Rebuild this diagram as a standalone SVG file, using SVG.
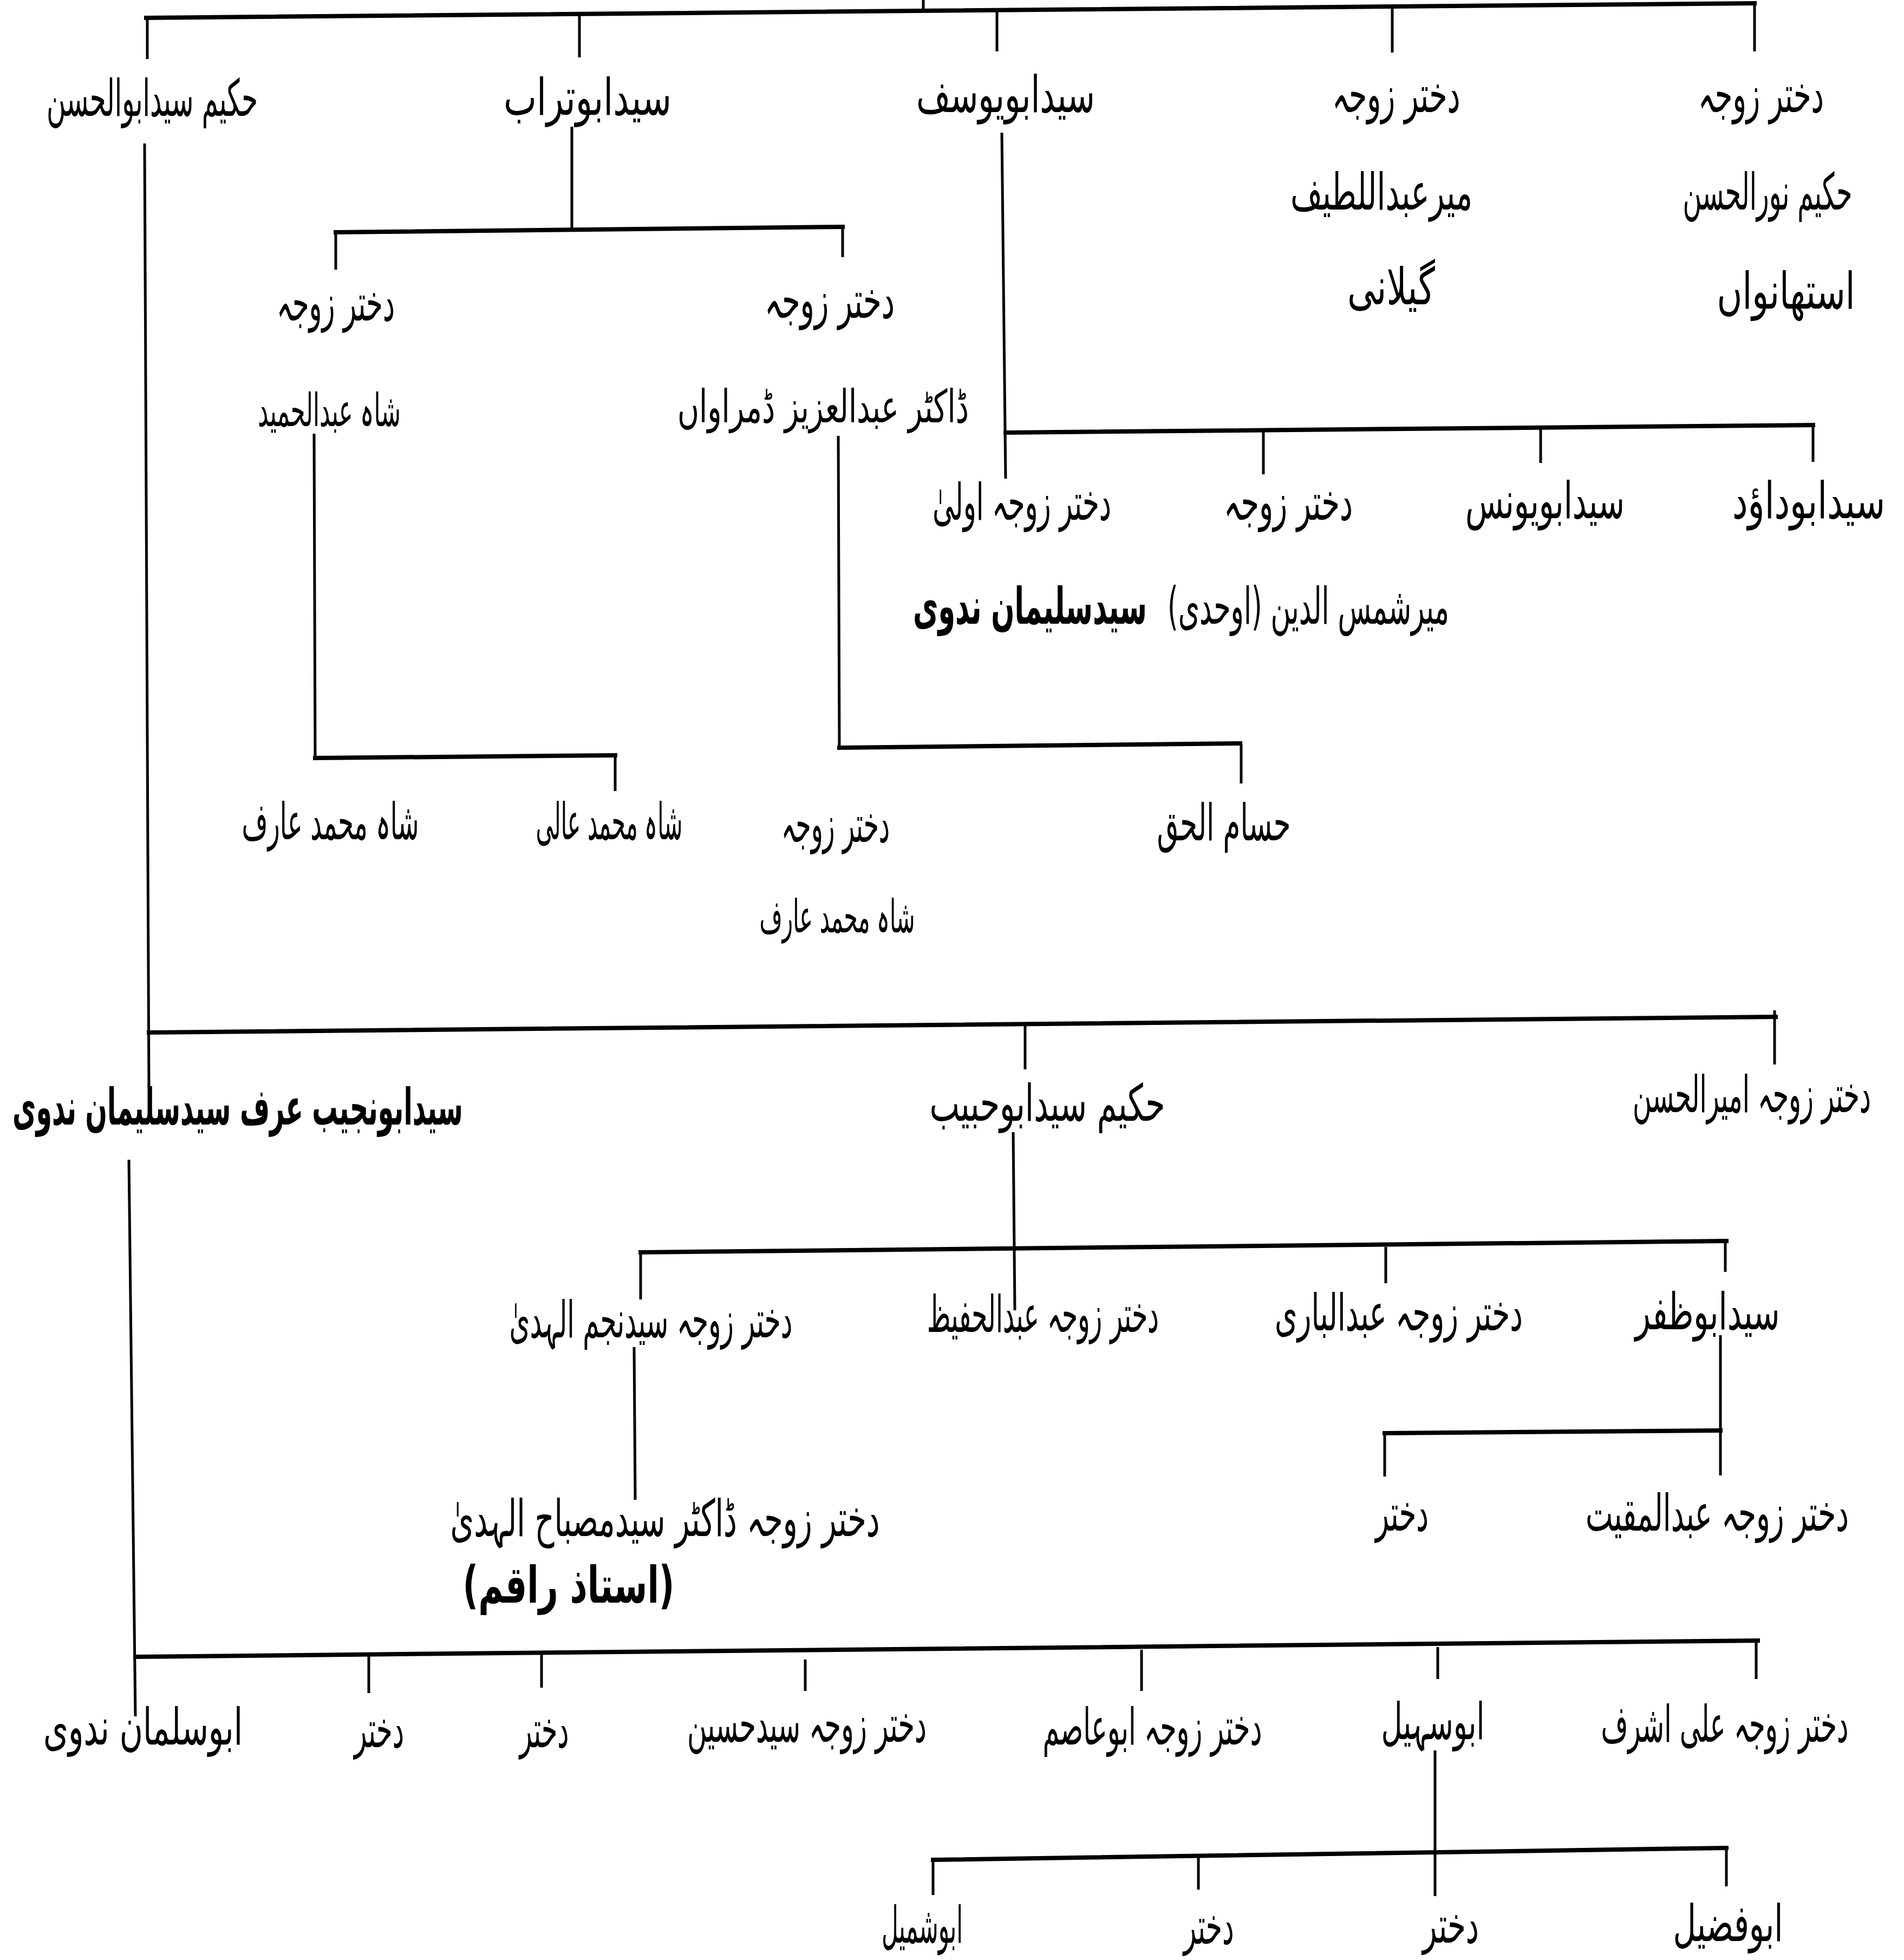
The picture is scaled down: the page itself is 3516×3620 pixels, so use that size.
<svg xmlns="http://www.w3.org/2000/svg" width="3516" height="3620" viewBox="0 0 3516 3620">
<style>
.t{font-family:"DejaVu Sans",sans-serif;font-size:94px;fill:#000;text-anchor:middle;direction:rtl}
.s{font-size:84px}
.b{font-weight:bold}
.h{stroke:#000;stroke-width:8;stroke-linecap:square}
.v{stroke:#000;stroke-width:5}
</style>
<rect width="3516" height="3620" fill="#fff"/>
<g id="connectors">
<line class="v" x1="1705" y1="0" x2="1705" y2="18"/>
<line class="h" x1="270" y1="33" x2="3240" y2="6"/>
<line class="v" x1="272" y1="33" x2="272" y2="109"/>
<line class="v" x1="1070" y1="26" x2="1070" y2="106"/>
<line class="v" x1="1841" y1="19" x2="1841" y2="95"/>
<line class="v" x1="2571" y1="12" x2="2571" y2="97"/>
<line class="v" x1="3240" y1="6" x2="3240" y2="95"/>
<line class="v" x1="1056" y1="234" x2="1056" y2="423"/>
<line class="h" x1="620" y1="429" x2="1556" y2="419"/>
<line class="v" x1="620" y1="429" x2="620" y2="498"/>
<line class="v" x1="1556" y1="419" x2="1556" y2="475"/>
<line class="v" x1="580" y1="801" x2="582" y2="1400"/>
<line class="h" x1="582" y1="1400" x2="1136" y2="1395"/>
<line class="v" x1="1136" y1="1395" x2="1136" y2="1461"/>
<line class="v" x1="1548" y1="805" x2="1550" y2="1381"/>
<line class="h" x1="1550" y1="1381" x2="2290" y2="1373"/>
<line class="v" x1="2292" y1="1375" x2="2292" y2="1447"/>
<line class="v" x1="1850" y1="245" x2="1857" y2="884"/>
<line class="h" x1="1857" y1="799" x2="3348" y2="785"/>
<line class="v" x1="2333" y1="793" x2="2333" y2="876"/>
<line class="v" x1="2845" y1="791" x2="2845" y2="855"/>
<line class="v" x1="3348" y1="785" x2="3348" y2="853"/>
<line class="v" x1="267" y1="265" x2="275" y2="2010"/>
<line class="h" x1="275" y1="1907" x2="3279" y2="1878"/>
<line class="v" x1="1893" y1="1890" x2="1893" y2="1975"/>
<line class="v" x1="3277" y1="1866" x2="3277" y2="1966"/>
<line class="v" x1="238" y1="2142" x2="250" y2="3170"/>
<line class="h" x1="250" y1="3060" x2="3246" y2="3030"/>
<line class="v" x1="681" y1="3059" x2="681" y2="3127"/>
<line class="v" x1="1000" y1="3055" x2="1000" y2="3117"/>
<line class="v" x1="1487" y1="3065" x2="1487" y2="3123"/>
<line class="v" x1="2108" y1="3047" x2="2108" y2="3123"/>
<line class="v" x1="2655" y1="3042" x2="2655" y2="3101"/>
<line class="v" x1="3243" y1="3030" x2="3243" y2="3101"/>
<line class="v" x1="1871" y1="2091" x2="1874" y2="2420"/>
<line class="h" x1="1183" y1="2313" x2="3188" y2="2292"/>
<line class="v" x1="1183" y1="2313" x2="1183" y2="2400"/>
<line class="v" x1="2559" y1="2303" x2="2559" y2="2370"/>
<line class="v" x1="3186" y1="2292" x2="3186" y2="2349"/>
<line class="v" x1="1171" y1="2488" x2="1173" y2="2770"/>
<line class="v" x1="3177" y1="2466" x2="3177" y2="2725"/>
<line class="h" x1="2557" y1="2647" x2="3177" y2="2642"/>
<line class="v" x1="2557" y1="2645" x2="2557" y2="2727"/>
<line class="v" x1="2650" y1="3233" x2="2650" y2="3502"/>
<line class="h" x1="1723" y1="3435" x2="3188" y2="3413"/>
<line class="v" x1="1723" y1="3433" x2="1723" y2="3500"/>
<line class="v" x1="2213" y1="3431" x2="2213" y2="3490"/>
<line class="v" x1="3188" y1="3413" x2="3188" y2="3484"/>
</g>
<g id="n1"><text class="t" x="281" y="214" textLength="390" lengthAdjust="spacingAndGlyphs">حکیم سیدابوالحسن</text></g>
<g id="n2"><text class="t" x="1085" y="212" textLength="310" lengthAdjust="spacingAndGlyphs">سیدابوتراب</text></g>
<g id="n3"><text class="t" x="1857" y="207" textLength="330" lengthAdjust="spacingAndGlyphs">سیدابویوسف</text></g>
<g id="n4"><text class="t" x="2578" y="207" textLength="237" lengthAdjust="spacingAndGlyphs">دختر زوجہ</text><text class="t" x="2551" y="387" textLength="336" lengthAdjust="spacingAndGlyphs">میرعبداللطیف</text><text class="t" x="2569" y="562" textLength="162" lengthAdjust="spacingAndGlyphs">گیلانی</text></g>
<g id="n5"><text class="t" x="3252" y="207" textLength="232" lengthAdjust="spacingAndGlyphs">دختر زوجہ</text><text class="t" x="3264" y="387" textLength="313" lengthAdjust="spacingAndGlyphs">حکیم نورالحسن</text><text class="t" x="3298" y="570" textLength="255" lengthAdjust="spacingAndGlyphs">استھانواں</text></g>
<g id="n6"><text class="t" x="620" y="592" textLength="218" lengthAdjust="spacingAndGlyphs">دختر زوجہ</text><text class="t s" x="608" y="787" textLength="264" lengthAdjust="spacingAndGlyphs">شاہ عبدالحمید</text></g>
<g id="n7"><text class="t" x="1532" y="587" textLength="240" lengthAdjust="spacingAndGlyphs">دختر زوجہ</text><text class="t s" x="1520" y="780" textLength="538" lengthAdjust="spacingAndGlyphs">ڈاکٹر عبدالعزیز ڈمراواں</text></g>
<g id="n8"><text class="t" x="1887" y="960" textLength="330" lengthAdjust="spacingAndGlyphs">دختر زوجہ اولیٰ</text><text class="t b" x="1902" y="1152" textLength="432" lengthAdjust="spacingAndGlyphs">سیدسلیمان ندوی</text><text class="t" x="2416" y="1152" textLength="520" lengthAdjust="spacingAndGlyphs">میرشمس الدین (اوحدی)</text></g>
<g id="n9"><text class="t" x="2379" y="960" textLength="238" lengthAdjust="spacingAndGlyphs">دختر زوجہ</text></g>
<g id="n10"><text class="t" x="2853" y="957" textLength="294" lengthAdjust="spacingAndGlyphs">سیدابویونس</text></g>
<g id="n11"><text class="t" x="3340" y="957" textLength="282" lengthAdjust="spacingAndGlyphs">سیدابوداؤد</text></g>
<g id="n12"><text class="t" x="610" y="1550" textLength="327" lengthAdjust="spacingAndGlyphs">شاہ محمد عارف</text></g>
<g id="n13"><text class="t" x="1125" y="1550" textLength="271" lengthAdjust="spacingAndGlyphs">شاہ محمد عالی</text></g>
<g id="n14"><text class="t" x="1543" y="1555" textLength="200" lengthAdjust="spacingAndGlyphs">دختر زوجہ</text><text class="t s" x="1546" y="1722" textLength="287" lengthAdjust="spacingAndGlyphs">شاہ محمد عارف</text></g>
<g id="n15"><text class="t" x="2260" y="1552" textLength="247" lengthAdjust="spacingAndGlyphs">حسام الحق</text></g>
<g id="n16"><text class="t b" x="439" y="2077" textLength="832" lengthAdjust="spacingAndGlyphs">سیدابونجیب عرف سیدسلیمان ندوی</text></g>
<g id="n17"><text class="t" x="1934" y="2070" textLength="435" lengthAdjust="spacingAndGlyphs">حکیم سیدابوحبیب</text></g>
<g id="n18"><text class="t" x="3235" y="2054" textLength="440" lengthAdjust="spacingAndGlyphs">دختر زوجہ امیرالحسن</text></g>
<g id="n19"><text class="t" x="1202" y="2470" textLength="523" lengthAdjust="spacingAndGlyphs">دختر زوجہ سیدنجم الہدیٰ</text></g>
<g id="n20"><text class="t" x="1926" y="2460" textLength="428" lengthAdjust="spacingAndGlyphs">دختر زوجہ عبدالحفیظ</text></g>
<g id="n21"><text class="t" x="2583" y="2457" textLength="458" lengthAdjust="spacingAndGlyphs">دختر زوجہ عبدالباری</text></g>
<g id="n22"><text class="t" x="3153" y="2455" textLength="267" lengthAdjust="spacingAndGlyphs">سیدابوظفر</text></g>
<g id="n23"><text class="t" x="1228" y="2837" textLength="793" lengthAdjust="spacingAndGlyphs">دختر زوجہ ڈاکٹر سیدمصباح الہدیٰ</text><text class="t b" x="1050" y="2960" textLength="391" lengthAdjust="spacingAndGlyphs">(استاذ راقم)</text></g>
<g id="n24"><text class="t" x="2589" y="2827" textLength="98" lengthAdjust="spacingAndGlyphs">دختر</text></g>
<g id="n25"><text class="t" x="3171" y="2827" textLength="486" lengthAdjust="spacingAndGlyphs">دختر زوجہ عبدالمقیت</text></g>
<g id="n26"><text class="t" x="264" y="3222" textLength="368" lengthAdjust="spacingAndGlyphs">ابوسلمان ندوی</text></g>
<g id="n27"><text class="t" x="700" y="3227" textLength="92" lengthAdjust="spacingAndGlyphs">دختر</text></g>
<g id="n28"><text class="t" x="1005" y="3227" textLength="91" lengthAdjust="spacingAndGlyphs">دختر</text></g>
<g id="n29"><text class="t" x="1490" y="3217" textLength="442" lengthAdjust="spacingAndGlyphs">دختر زوجہ سیدحسین</text></g>
<g id="n30"><text class="t" x="2128" y="3222" textLength="405" lengthAdjust="spacingAndGlyphs">دختر زوجہ ابوعاصم</text></g>
<g id="n31"><text class="t" x="2646" y="3212" textLength="191" lengthAdjust="spacingAndGlyphs">ابوسہیل</text></g>
<g id="n32"><text class="t" x="3185" y="3217" textLength="457" lengthAdjust="spacingAndGlyphs">دختر زوجہ علی اشرف</text></g>
<g id="n33"><text class="t" x="1703" y="3588" textLength="150" lengthAdjust="spacingAndGlyphs">ابوشمیل</text></g>
<g id="n34"><text class="t" x="2232" y="3590" textLength="93" lengthAdjust="spacingAndGlyphs">دختر</text></g>
<g id="n35"><text class="t" x="2679" y="3588" textLength="104" lengthAdjust="spacingAndGlyphs">دختر</text></g>
<g id="n36"><text class="t" x="3191" y="3585" textLength="203" lengthAdjust="spacingAndGlyphs">ابوفضیل</text></g>
</svg>
